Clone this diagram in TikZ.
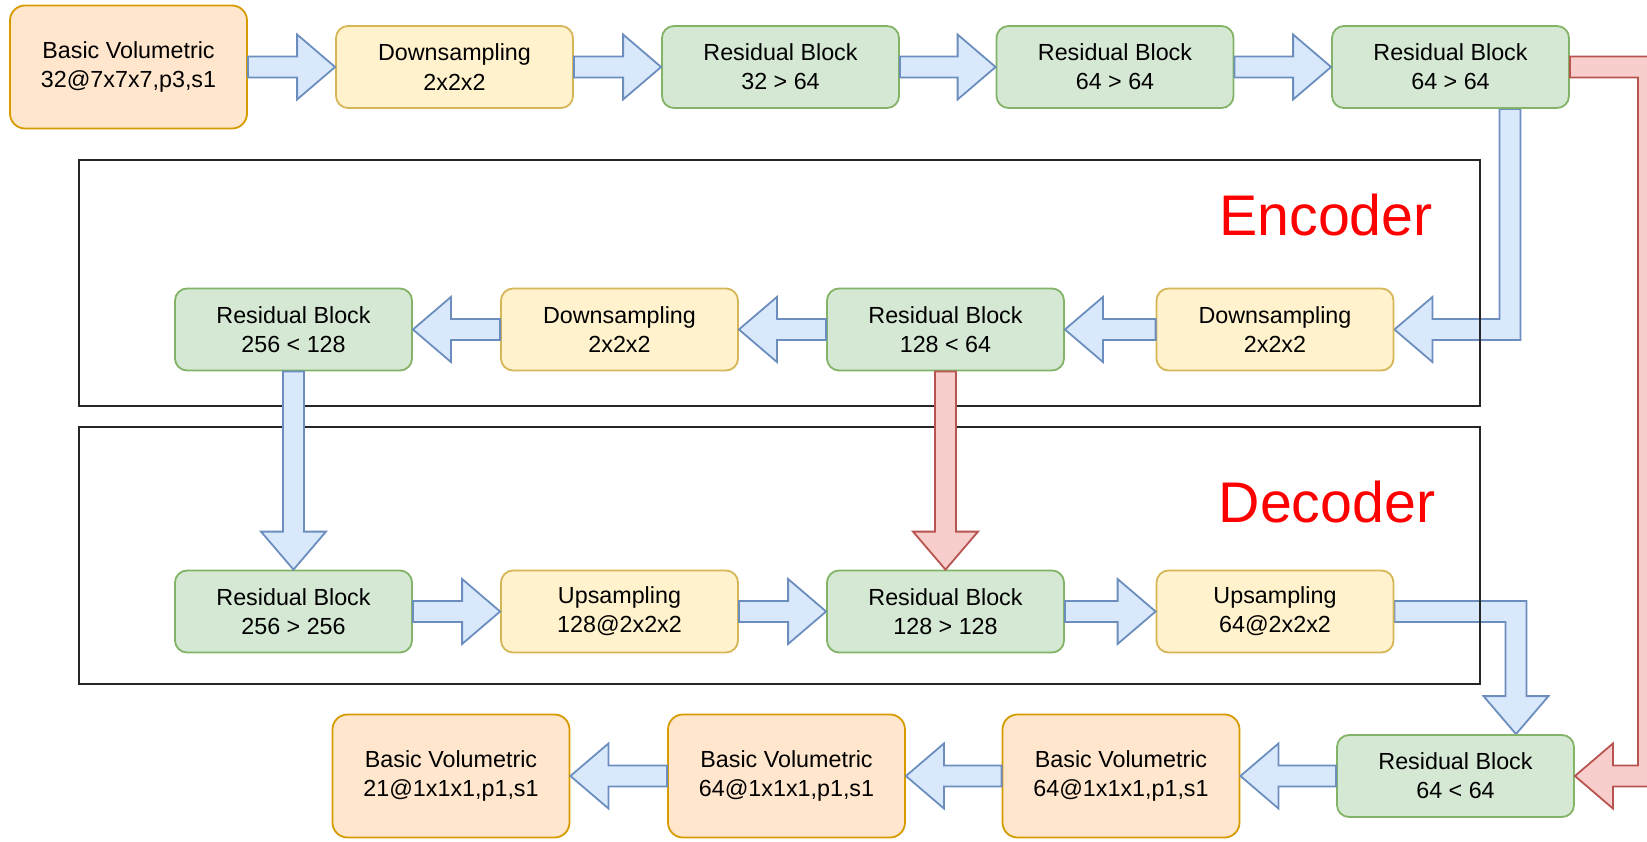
\documentclass[tikz,border=0pt]{standalone}
\usepackage{fontspec}
\setmainfont{Liberation Sans}
\usetikzlibrary{calc,backgrounds}
\definecolor{orfill}{HTML}{FFE6CC}\definecolor{ordraw}{HTML}{D79B00}
\definecolor{yefill}{HTML}{FFF2CC}\definecolor{yedraw}{HTML}{D6B656}
\definecolor{grfill}{HTML}{D5E8D4}\definecolor{grdraw}{HTML}{82B366}
\definecolor{blfill}{HTML}{DAE8FC}\definecolor{bldraw}{HTML}{6C8EBF}
\definecolor{rdfill}{HTML}{F8CECC}\definecolor{rddraw}{HTML}{B85450}
\definecolor{titlered}{HTML}{FF0000}
\tikzset{
  blk/.style={rectangle, rounded corners=12pt, minimum width=237pt, minimum height=82pt,
    inner sep=0pt, line width=1.8pt, align=center, font=\fontsize{23.3}{29.3}\selectfont,
    execute at begin node={\rule{0pt}{21pt}}},
  resblk/.style={blk, fill=grfill, draw=grdraw},
  smpblk/.style={blk, fill=yefill, draw=yedraw},
  volblk/.style={blk, fill=orfill, draw=ordraw, minimum height=123pt, rounded corners=15pt},
  barrow/.style={fill=blfill, draw=bldraw, line width=1.8pt, line join=miter},
  rarrow/.style={fill=rdfill, draw=rddraw, line width=1.8pt, line join=miter},
  frame/.style={draw=black!85, line width=2.2pt, minimum width=1401pt, inner sep=0pt},
  title/.style={text=titlered, font=\fontsize{57.3}{68}\selectfont, inner sep=0pt, anchor=base},
}
\newcommand\arrR[3]{\draw[#1] ($(#2.east)+(0,-10.5)$) -- ($(#3.west)+(-38,-10.5)$) -- ($(#3.west)+(-38,-32.5)$) -- (#3.west) -- ($(#3.west)+(-38,32.5)$) -- ($(#3.west)+(-38,10.5)$) -- ($(#2.east)+(0,10.5)$) -- cycle;}
\newcommand\arrL[3]{\draw[#1] ($(#2.west)+(0,-10.5)$) -- ($(#3.east)+(38,-10.5)$) -- ($(#3.east)+(38,-32.5)$) -- (#3.east) -- ($(#3.east)+(38,32.5)$) -- ($(#3.east)+(38,10.5)$) -- ($(#2.west)+(0,10.5)$) -- cycle;}
\newcommand\arrD[3]{\draw[#1] ($(#2.south)+(-10.5,0)$) -- ($(#3.north)+(-10.5,-38)$) -- ($(#3.north)+(-32.5,-38)$) -- (#3.north) -- ($(#3.north)+(32.5,-38)$) -- ($(#3.north)+(10.5,-38)$) -- ($(#2.south)+(10.5,0)$) -- cycle;}
\begin{document}
\begin{tikzpicture}[x=1pt,y=-1pt]
\useasboundingbox (0,0) rectangle (1647,842);

% frames
\node[frame, minimum height=246pt] (encframe) at (779.5,283) {};
\node[frame, minimum height=257pt] (decframe) at (779.5,555.5) {};
\node[title] (enc) at (1326,236) {Encoder};
\node[title] (dec) at (1327,522) {Decoder};

% top row
\node[volblk] (bv1) at (128.5,67) {Basic Volumetric\\32@7x7x7,p3,s1};
\node[smpblk] (ds1) at (454.5,67) {Downsampling\\2x2x2};
\node[resblk] (rb1) at (780.5,67) {Residual Block\\32 > 64};
\node[resblk] (rb2) at (1115,67) {Residual Block\\64 > 64};
\node[resblk] (rb3) at (1450.5,67) {Residual Block\\64 > 64};

% encoder row
\node[resblk] (rb4) at (293.5,329.5) {Residual Block\\256 < 128};
\node[smpblk] (ds3) at (619.5,329.5) {Downsampling\\2x2x2};
\node[resblk] (rb5) at (945.5,329.5) {Residual Block\\128 < 64};
\node[smpblk] (ds2) at (1275,329.5) {Downsampling\\2x2x2};

% decoder row
\node[resblk] (rb6) at (293.5,611.5) {Residual Block\\256 > 256};
\node[smpblk] (us1) at (619.5,611.5) {Upsampling\\128@2x2x2};
\node[resblk] (rb7) at (945.5,611.5) {Residual Block\\128 > 128};
\node[smpblk] (us2) at (1275,611.5) {Upsampling\\64@2x2x2};

% bottom row
\node[resblk] (rb8) at (1455.5,776) {Residual Block\\64 < 64};
\node[volblk] (bv2) at (1121,776) {Basic Volumetric\\64@1x1x1,p1,s1};
\node[volblk] (bv3) at (786.5,776) {Basic Volumetric\\64@1x1x1,p1,s1};
\node[volblk] (bv4) at (451,776) {Basic Volumetric\\21@1x1x1,p1,s1};

% elbow arrows (under frames)
\coordinate (k1) at ($(rb3.south)+(59.5,0)$);
\coordinate (k2) at (k1 |- ds2.east);
\coordinate (k3) at ($(rb8.north)+(60.5,0)$);
\coordinate (k4) at (k3 |- us2.east);
\begin{pgfonlayer}{background}
\fill[white] (0,0) rectangle (1647,842);
\draw[barrow] ($(k1)+(-10.5,0)$) -- ($(k2)+(-10.5,-10.5)$) -- ($(ds2.east)+(38,-10.5)$) -- ($(ds2.east)+(38,-32.5)$) -- (ds2.east) -- ($(ds2.east)+(38,32.5)$) -- ($(ds2.east)+(38,10.5)$) -- ($(k2)+(10.5,10.5)$) -- ($(k1)+(10.5,0)$) -- cycle;
\draw[barrow] ($(us2.east)+(0,-10.5)$) -- ($(k4)+(10.5,-10.5)$) -- ($(k3)+(10.5,-38)$) -- ($(k3)+(32.5,-38)$) -- (k3) -- ($(k3)+(-32.5,-38)$) -- ($(k3)+(-10.5,-38)$) -- ($(k4)+(-10.5,10.5)$) -- ($(us2.east)+(0,10.5)$) -- cycle;
\end{pgfonlayer}

% straight arrows
\arrR{barrow}{bv1}{ds1}
\arrR{barrow}{ds1}{rb1}
\arrR{barrow}{rb1}{rb2}
\arrR{barrow}{rb2}{rb3}
\arrL{barrow}{ds2}{rb5}
\arrL{barrow}{rb5}{ds3}
\arrL{barrow}{ds3}{rb4}
\arrD{barrow}{rb4}{rb6}
\arrD{rarrow}{rb5}{rb7}
\arrR{barrow}{rb6}{us1}
\arrR{barrow}{us1}{rb7}
\arrR{barrow}{rb7}{us2}
\arrL{barrow}{rb8}{bv2}
\arrL{barrow}{bv2}{bv3}
\arrL{barrow}{bv3}{bv4}

% red skip arrow, cut at the right edge
\coordinate (k5) at ($(rb3.east)+(78.5,0)$);
\coordinate (k6) at (k5 |- rb8.east);
\begin{scope}
\clip (0,0) rectangle (1647,842);
\draw[rarrow] ($(rb3.east)+(0,-10.5)$) -- ($(k5)+(10.5,-10.5)$) -- ($(k6)+(10.5,10.5)$) -- ($(rb8.east)+(38,10.5)$) -- ($(rb8.east)+(38,32.5)$) -- (rb8.east) -- ($(rb8.east)+(38,-32.5)$) -- ($(rb8.east)+(38,-10.5)$) -- ($(k6)+(-10.5,-10.5)$) -- ($(k5)+(-10.5,10.5)$) -- ($(rb3.east)+(0,10.5)$) -- cycle;
\end{scope}
\end{tikzpicture}
\end{document}
